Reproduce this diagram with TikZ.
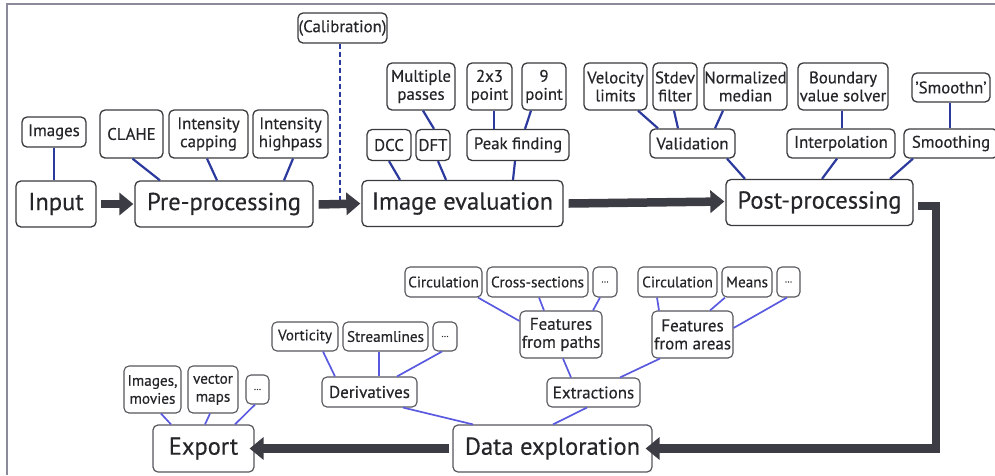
\documentclass[tikz,border=0pt]{standalone}
\usepackage{fontspec}
\setmainfont{PT Sans}[FakeBold=0.35]
\usetikzlibrary{arrows.meta}

\definecolor{boxline}{HTML}{3A3A3E}
\definecolor{boxlow}{HTML}{55555C}
\definecolor{textcol}{HTML}{26262A}
\definecolor{linktop}{HTML}{2C3A9E}
\definecolor{linklow}{HTML}{5A5AE0}
\definecolor{flowcol}{HTML}{3C3C44}
\definecolor{framecol}{HTML}{8A8A9A}

\tikzset{
  box/.style={draw=boxline, line width=1.3pt, rounded corners=5pt, inner sep=0pt,
    align=center, text=textcol, fill=white, font=\fontsize{16.8}{18}\selectfont},
  sz/.style 2 args={minimum width=#1pt, minimum height=#2pt},
  big/.style={box, font=\fontsize{24.5}{26}\selectfont},
  low/.style={box, draw=boxlow, line width=1.1pt, font=\fontsize{15.2}{18}\selectfont},
  mid/.style={low, font=\fontsize{17}{18}\selectfont},
  lowbig/.style={low, line width=1.2pt, font=\fontsize{24.5}{26}\selectfont},
  dotbox/.style={low, font=\fontsize{9}{10}\selectfont},
  link/.style={draw=linktop, line width=2.2pt},
  linkl/.style={draw=linklow, line width=1.7pt},
  flow/.style={draw=flowcol, line width=8.5pt, -{Triangle[length=14pt,width=22pt]}},
  calibline/.style={draw=linktop, line width=2pt, dash pattern=on 5pt off 3pt},
  frameline/.style={draw=framecol, line width=1.5pt},
}

\begin{document}
\begin{tikzpicture}[x=1pt, y=-1pt]
\useasboundingbox (0,0) rectangle (995,475);

% outer frame (top and left edges)
\coordinate (fbl) at (7,475);
\coordinate (ftl) at (7,4);
\coordinate (ftr) at (995,4);
\draw[frameline] (fbl) -- (ftl) -- (ftr);

% ---------- processing chain ----------
\node[big, sz={80}{46}]  (input)   at (56,204)    {Input};
\node[big, sz={178}{46}] (pre)     at (224,204)   {Pre-processing};
\node[big, sz={201}{46}] (imgeval) at (462.5,203.5) {Image evaluation};
\node[big, sz={187}{46}] (post)    at (819.5,202.5) {Post-processing};

\node[box, sz={64}{30}] (images) at (54,132) {Images};

% pre-processing options
\node[box, sz={63}{48}] (clahe) at (131.5,134) {CLAHE};
\node[box, sz={79}{48}] (icap)  at (208.5,134) {Intensity\\capping};
\node[box, sz={75}{48}] (ihigh) at (290.5,134) {Intensity\\highpass};

% calibration
\node[box, sz={89}{30}] (calib) at (342.5,28) {(Calibration)};

% image evaluation options
\node[box, sz={44}{31}]  (dcc)   at (389,145)   {DCC};
\node[box, sz={34}{31}]  (dft)   at (433,145)   {DFT};
\node[box, sz={102}{31}] (peak)  at (518,145)   {Peak finding};
\node[box, sz={68}{47}]  (mpass) at (421,86.5)  {Multiple\\passes};
\node[box, sz={45}{47}]  (p23)   at (489.5,86.5) {2x3\\point};
\node[box, sz={44}{47}]  (p9)    at (544,86.5)  {9\\point};

% post-processing options
\node[box, sz={63}{47}]  (velo)    at (615.5,86.5) {Velocity\\limits};
\node[box, sz={44}{47}]  (stdev)   at (675,86.5)   {Stdev\\filter};
\node[box, sz={83}{47}]  (normed)  at (745.5,86.5) {Normalized\\median};
\node[box, sz={90}{47}]  (bvs)     at (843,86.5)   {Boundary\\value solver};
\node[box, sz={78}{29}]  (smoothn) at (951,87.5)   {'Smoothn'};
\node[box, sz={85}{29}]  (valid)   at (692.5,143.5) {Validation};
\node[box, sz={108}{29}] (interp)  at (841,143.5)  {Interpolation};
\node[box, sz={94}{29}]  (smooth)  at (951,143.5)  {Smoothing};

% ---------- exploration and export ----------
\node[lowbig, sz={199}{47}] (dataexp) at (552.5,448.5) {Data exploration};
\node[lowbig, sz={101}{47}] (export)  at (203.5,448.5) {Export};

\node[mid, sz={93}{29}] (extr)   at (593.5,392.5) {Extractions};
\node[mid, sz={95}{30}] (deriv)  at (369.5,392)   {Derivatives};
\node[mid, sz={82}{47}] (fpaths) at (561,334.5)   {Features\\from paths};
\node[mid, sz={81}{47}] (fareas) at (692.5,334.5) {Features\\from areas};

\node[low, sz={77}{30}]  (circa) at (443.5,282) {Circulation};
\node[low, sz={101}{30}] (xsec)  at (537.5,282) {Cross-sections};
\node[dotbox, sz={24}{30}] (dotsa) at (605,282) {...};
\node[low, sz={79}{30}]  (circb) at (677.5,282) {Circulation};
\node[low, sz={50}{30}]  (means) at (747,282)   {Means};
\node[dotbox, sz={23}{30}] (dotsb) at (788.5,282) {...};

\node[low, sz={66}{29}] (vort)   at (305,336.5)   {Vorticity};
\node[low, sz={85}{29}] (stream) at (385.5,336.5) {Streamlines};
\node[dotbox, sz={24}{29}] (dotsc) at (445,336.5) {...};

\node[low, sz={57}{47}] (imgmov) at (152.5,389.5) {Images,\\movies};
\node[low, sz={50}{47}] (vmaps)  at (213,389.5)   {vector\\maps};
\node[dotbox, sz={23}{29}] (dotsd) at (257.5,389.5) {...};

% ---------- connectors, processing chain ----------
\draw[link] (images.south) -- (images.south |- input.north);
\draw[link] ([xshift=1pt]clahe.south)  -- ([xshift=-64pt]pre.north);
\draw[link] ([xshift=-1.5pt]icap.south) -- ([xshift=-7pt]pre.north);
\draw[link] ([xshift=2.5pt]ihigh.south) -- ([xshift=60pt]pre.north);

\draw[link] ([xshift=2pt]mpass.south)  -- ([xshift=1pt]dft.north);
\draw[link] ([xshift=4.5pt]p23.south)  -- ([xshift=-24pt]peak.north);
\draw[link] ([xshift=-13pt]p9.south)   -- ([xshift=7pt]peak.north);
\draw[link] (dcc.south)                -- ([xshift=-62.5pt]imgeval.north);
\draw[link] ([xshift=5pt]dft.south)    -- ([xshift=-16.5pt]imgeval.north);
\draw[link] ([xshift=-3pt]peak.south)  -- ([xshift=50.5pt]imgeval.north);

\draw[link] ([xshift=22.5pt]velo.south)   -- ([xshift=-34.5pt]valid.north);
\draw[link] ([xshift=-1pt]stdev.south)    -- ([xshift=-14.5pt]valid.north);
\draw[link] ([xshift=-22.5pt]normed.south) -- ([xshift=22.5pt]valid.north);
\draw[link] ([xshift=-1pt]bvs.south)      -- ([xshift=1pt]interp.north);
\draw[link] ([xshift=-1pt]smoothn.south)  -- ([xshift=-1pt]smooth.north);
\draw[link] ([xshift=34.5pt]valid.south)  -- ([xshift=-74.5pt]post.north);
\draw[link] ([xshift=-4pt]interp.south)   -- ([xshift=2.5pt]post.north);
\draw[link] ([xshift=-38pt]smooth.south)  -- ([xshift=70.5pt]post.north);

% ---------- connectors, exploration ----------
\draw[linkl] ([xshift=34.5pt]circa.south) -- ([yshift=13.5pt]fpaths.west);
\draw[linkl] ([xshift=1.5pt]xsec.south)   -- ([xshift=-17pt]fpaths.north);
\draw[linkl] ([xshift=-5pt]dotsa.south)   -- ([xshift=32pt]fpaths.north);
\draw[linkl] ([xshift=-20.5pt]circb.south) -- ([xshift=-33.5pt]fareas.north);
\draw[linkl] ([xshift=-22pt]means.south)  -- ([xshift=17.5pt]fareas.north);
\draw[linkl] ([xshift=-1.5pt]dotsb.south) -- ([yshift=6.5pt]fareas.east);
\draw[linkl] ([xshift=2pt]fpaths.south)   -- ([xshift=-22.5pt]extr.north);
\draw[linkl] ([xshift=-32.5pt]fareas.south) -- ([xshift=26.5pt]extr.north);
\draw[linkl] ([xshift=-6.5pt]extr.south)  -- ([xshift=0.5pt]dataexp.north);
\draw[linkl] ([xshift=33.5pt]deriv.south) -- ([xshift=-79.5pt]dataexp.north);

\draw[linkl] ([xshift=18pt]vort.south)    -- ([xshift=-34.5pt]deriv.north);
\draw[linkl] ([xshift=-6.5pt]stream.south) -- ([xshift=9.5pt]deriv.north);
\draw[linkl] ([xshift=-3pt]dotsc.south)   -- ([xshift=27.5pt]deriv.north);

\draw[linkl] ([xshift=8.5pt]imgmov.south) -- ([xshift=-32.5pt]export.north);
\draw[linkl] ([xshift=-3pt]vmaps.south)   -- ([xshift=1.5pt]export.north);
\draw[linkl] ([xshift=-2.5pt]dotsd.south) -- ([xshift=31.5pt]export.north);

% ---------- calibration feed ----------
\coordinate (calibend) at (339.5,203.5);
\draw[calibline] ([xshift=-3pt]calib.south) -- (calibend);

% ---------- main flow arrows ----------
\coordinate (turn) at (936,448.5);
\draw[flow] ([xshift=4pt]input.east) -- ([xshift=-1pt]pre.west);
\draw[flow] ([xshift=5pt,yshift=-0.5pt]pre.east) -- ([xshift=-1pt]imgeval.west);
\draw[flow] ([xshift=5pt]imgeval.east) -- ([xshift=-1pt,yshift=1pt]post.west);
\draw[flow] ([xshift=4pt,yshift=-3.5pt]post.east) -| (turn) -- ([xshift=-7pt]dataexp.east);
\draw[flow] ([xshift=-3pt]dataexp.west) -- ([xshift=-5pt]export.east);
\end{tikzpicture}
\end{document}
